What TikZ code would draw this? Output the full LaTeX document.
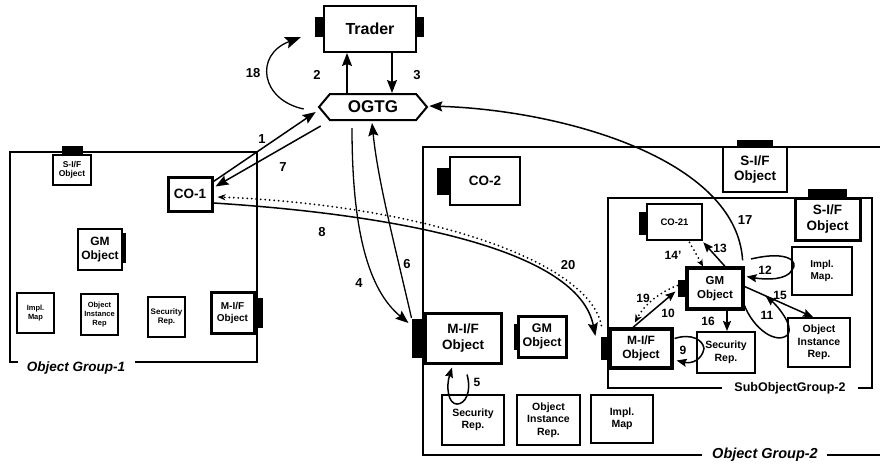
\documentclass[tikz,border=0pt]{standalone}
\usepackage{fontspec}
\setmainfont{Liberation Sans}
\usetikzlibrary{arrows.meta,shapes.symbols}
\newcommand{\fsz}[2]{\fontsize{#1}{#2}\selectfont}
\begin{document}
\begin{tikzpicture}[x=1pt,y=-1pt,
  box/.style={draw, fill=white, line width=2.6pt, inner sep=0pt, align=center, font=\bfseries},
  repbox/.style={box, line width=1.9pt},
  grp/.style={line width=2.8pt},
  tabfill/.style={fill=black},
  arr/.style={line width=1.5pt, -{Stealth[length=13pt,width=10pt,inset=2pt]}},
  sarr/.style={line width=1.5pt, -{Stealth[length=10pt,width=8pt,inset=1.5pt]}},
  dotln/.style={line width=2pt, dash pattern=on 0pt off 4.5pt, line cap=round},
  lbl/.style={inner sep=0pt, font=\bfseries\fsz{13}{13}},
  slbl/.style={inner sep=0pt, font=\bfseries\fsz{12}{12}},
  grplbl/.style={inner sep=0pt, font=\bfseries\itshape\fsz{13.5}{13.5}},
]
\fill[white] (0,0) rectangle (880,466);
\useasboundingbox (0,0) rectangle (880,466);

% groups
\draw[grp] (18,362) -- (10,362) -- (10,152) -- (257,152) -- (257,362) -- (135,362);
\node[grplbl] (g1lbl) at (76,368) {Object Group-1};
\draw[grp] (880,147) -- (423,147) -- (423,455) -- (702,455);
\draw[grp] (827,455) -- (880,455);
\node[grplbl, font=\bfseries\itshape\fsz{14.5}{14.5}] (g2lbl) at (765,455) {Object Group-2};
\draw[grp] (722,388) -- (608,388) -- (608,198) -- (872,198) -- (872,388) -- (858,388);
\node[grplbl, font=\bfseries\fsz{12.5}{12.5}] (sglbl) at (790,388) {SubObjectGroup-2};

% top
\node[box, line width=2pt, minimum width=92pt, minimum height=46pt, font=\bfseries\fsz{16}{18}] (trader) at (370,29) {Trader};
\node[draw, fill=white, signal, signal to=west and east, signal pointer angle=100, minimum width=108pt, minimum height=26pt, line width=2pt, inner sep=0pt, font=\bfseries\fsz{17}{19}] (ogtg) at (373,107) {OGTG};

% group 1
\node[box, minimum width=38pt, minimum height=30pt, font=\bfseries\fsz{8.5}{9.5}] (sif1) at (72,170) {S-I/F\\Object};
\node[box, line width=3pt, minimum width=44pt, minimum height=34pt, font=\bfseries\fsz{13.5}{15}] (co1) at (190,194) {CO-1};
\node[box, minimum width=44pt, minimum height=41pt, font=\bfseries\fsz{12}{13.5}] (gm1) at (100,249.5) {GM\\Object};
\node[repbox, minimum width=37pt, minimum height=40pt, font=\bfseries\fsz{7.5}{9}] (impl1) at (35.5,313) {Impl.\\Map};
\node[repbox, minimum width=37pt, minimum height=41pt, font=\bfseries\fsz{7.5}{9}] (oir1) at (99.5,314.5) {Object\\Instance\\Rep};
\node[repbox, minimum width=37pt, minimum height=40pt, font=\bfseries\fsz{8}{9.5}] (sec1) at (166.5,317) {Security\\Rep.};
\node[box, line width=3pt, minimum width=43pt, minimum height=41pt, font=\bfseries\fsz{10}{12}] (mif1) at (232.5,312.5) {M-I/F\\Object};

% group 2
\node[box, minimum width=70pt, minimum height=48pt, font=\bfseries\fsz{13.5}{15}] (co2) at (485,181) {CO-2};
\node[box, minimum width=64pt, minimum height=45pt, font=\bfseries\fsz{13.5}{15.5}] (sif2) at (755,169.5) {S-I/F\\Object};
\node[box, line width=3pt, minimum width=76pt, minimum height=50pt, font=\bfseries\fsz{13.5}{16.5}] (mif2) at (463,338) {M-I/F\\Object};
\node[box, line width=3pt, minimum width=48pt, minimum height=41pt, font=\bfseries\fsz{12.5}{14}] (gm2) at (542,336.5) {GM\\Object};
\node[repbox, minimum width=62pt, minimum height=50pt, font=\bfseries\fsz{10.5}{12.5}] (sec2) at (473,420) {Security\\Rep.};
\node[repbox, minimum width=63pt, minimum height=50pt, font=\bfseries\fsz{10.5}{12.5}] (oir2) at (548.5,420) {Object\\Instance\\Rep.};
\node[repbox, minimum width=62pt, minimum height=48pt, font=\bfseries\fsz{10.5}{12.5}] (impl2) at (622,419) {Impl.\\Map};

% sub group
\node[box, line width=3pt, minimum width=65pt, minimum height=42pt, font=\bfseries\fsz{13.5}{15.5}] (sifs) at (827.5,219) {S-I/F\\Object};
\node[box, minimum width=55pt, minimum height=36pt, font=\bfseries\fsz{9.5}{11}] (co21) at (674.5,222) {CO-21};
\node[box, line width=3.2pt, minimum width=56pt, minimum height=41pt, font=\bfseries\fsz{11.5}{13.5}] (gms) at (715,288.5) {GM\\Object};
\node[repbox, line width=2pt, minimum width=60pt, minimum height=48pt, font=\bfseries\fsz{10}{12.5}] (impls) at (822,271) {Impl.\\Map.};
\node[repbox, line width=2pt, minimum width=62pt, minimum height=49pt, font=\bfseries\fsz{10.5}{12.5}] (oirs) at (819,342.5) {Object\\Instance\\Rep.};
\node[repbox, line width=2pt, minimum width=58pt, minimum height=41pt, font=\bfseries\fsz{10.5}{12.5}] (secs) at (726,352.5) {Security\\Rep.};
\node[box, line width=3.2pt, minimum width=62pt, minimum height=39pt, font=\bfseries\fsz{12}{13.5}] (mifs) at (641,348.5) {M-I/F\\Object};

% tabs
\fill[tabfill] (315,17) rectangle (324,37);
\fill[tabfill] (416,17) rectangle (424,37);
\fill[tabfill] (62,146) rectangle (83,155);
\fill[tabfill] (122,233) rectangle (126,263);
\fill[tabfill] (254,298) rectangle (263,328);
\fill[tabfill] (437,168) rectangle (450,195);
\fill[tabfill] (737,140) rectangle (773,148);
\fill[tabfill] (412,319) rectangle (425,358);
\fill[tabfill] (514,324) rectangle (518,350);
\fill[tabfill] (808,189) rectangle (847,199);
\fill[tabfill] (639,212) rectangle (647,235);
\fill[tabfill] (678,280) rectangle (687,297);
\fill[tabfill] (601,337) rectangle (610,360);

% connectors
\draw[arr] ([shift={(-26,0)}]ogtg.north) -- ([shift={(-23,0)}]trader.south);
\draw[arr] ([shift={(22,0)}]trader.south) -- ([shift={(19,0)}]ogtg.north);
\draw[line width=1.3pt, -{Stealth[length=16pt,width=12pt,inset=3pt]}] ([shift={(-14,2)}]ogtg.west) .. controls +(-43,-9) and +(-47,18) .. ([shift={(-22,8)}]trader.west);
\draw[arr] ([shift={(0,6)}]co1.north east) -- ([shift={(-2,5)}]ogtg.west);
\draw[arr] ([shift={(3,19)}]ogtg.west) -- ([shift={(2,11)}]co1.north east);
\draw[arr, line width=1.3pt] ([shift={(-21,7)}]ogtg.south) .. controls +(0,103) and +(-40,-33) .. ([shift={(-15,-15)}]mif2.west);
\draw[arr, line width=1.3pt] ([shift={(-12,-20)}]mif2.west) .. controls +(-18,-78) and +(6,58) .. ([shift={(-1,2)}]ogtg.south);
\draw[arr] ([shift={(0,9)}]co1.east) .. controls +(188,12) and +(-17,-86) .. ([shift={(-13,-12.5)}]mifs.west);
\draw[dotln, -{Stealth[length=8pt,width=6pt]}] ([shift={(-7,-23)}]mifs.west) .. controls +(-13,-65.5) and +(204,8) .. ([shift={(4,3)}]co1.east);
\draw[arr] ([shift={(-2,-6)}]gms.north east) .. controls +(-6,-102) and +(132,4) .. ([shift={(1,-1)}]ogtg.east);
\draw[sarr] ([shift={(10,0)}]gms.north) -- ([shift={(0,1)}]co21.south east);
\draw[dotln, -{Stealth[length=7pt,width=6pt]}] ([shift={(15,1)}]co21.south) -- ([shift={(-12,0)}]gms.north);
\draw[sarr] ([shift={(-40,-12)}]impls.west) .. controls +(38,-9) and +(7,-8) .. ([shift={(1,-1)}]impls.west) .. controls +(-5,10) and +(20,3.5) .. ([shift={(2,-12)}]gms.east);
\draw[sarr] ([shift={(0,-2)}]gms.east) -- ([shift={(-6,0)}]oirs.north);
\draw[sarr] ([shift={(-1,15)}]gms.east) .. controls +(10,26.5) and +(-11,10.5) .. ([shift={(1,-8)}]oirs.west) .. controls +(6,-9.5) and +(11,9) .. ([shift={(21,7.5)}]gms.east);
\draw[sarr] ([shift={(12,0)}]gms.south) -- ([shift={(1,0)}]secs.north);
\draw[sarr] ([shift={(-8,0)}]mifs.north) -- ([shift={(-10,3)}]gms.west);
\draw[dotln, -{Stealth[length=8pt,width=7pt]}] ([shift={(-8,-3)}]gms.west) .. controls +(-17,6.5) and +(10,-19) .. ([shift={(-6,-5)}]mifs.north);
\draw[sarr] ([shift={(1,-10)}]mifs.east) .. controls +(17,-5.5) and +(-1,-8.5) .. ([shift={(8,-4)}]secs.west) .. controls +(-2,11.5) and +(15,3.5) .. ([shift={(3,12)}]mifs.east);
\draw[sarr] ([shift={(4,10)}]mif2.south) .. controls +(5,18) and +(8,0) .. ([shift={(-16,10)}]sec2.north) .. controls +(-9,0) and +(-6,19) .. ([shift={(-11,3)}]mif2.south);

% labels
\node[lbl] (n18) at (253,73) {18};
\node[lbl] (n2) at (317,75) {2};
\node[lbl] (n3) at (417,75) {3};
\node[lbl] (n1) at (262,139) {1};
\node[lbl] (n7) at (283,167) {7};
\node[lbl] (n8) at (322,232) {8};
\node[lbl] (n4) at (359,283) {4};
\node[lbl] (n6) at (407,264) {6};
\node[lbl] (n20) at (568,265) {20};
\node[lbl] (n17) at (745,220) {17};
\node[slbl] (n13) at (720,248) {13};
\node[slbl] (n14) at (673,255) {14'};
\node[slbl] (n12) at (765,270) {12};
\node[slbl] (n15) at (780,295) {15};
\node[slbl] (n11) at (767,315) {11};
\node[slbl] (n16) at (708,321) {16};
\node[slbl] (n10) at (668,313) {10};
\node[slbl] (n19) at (643,298) {19};
\node[slbl] (n9) at (683,350) {9};
\node[slbl] (n5) at (477,382) {5};
\end{tikzpicture}
\end{document}
